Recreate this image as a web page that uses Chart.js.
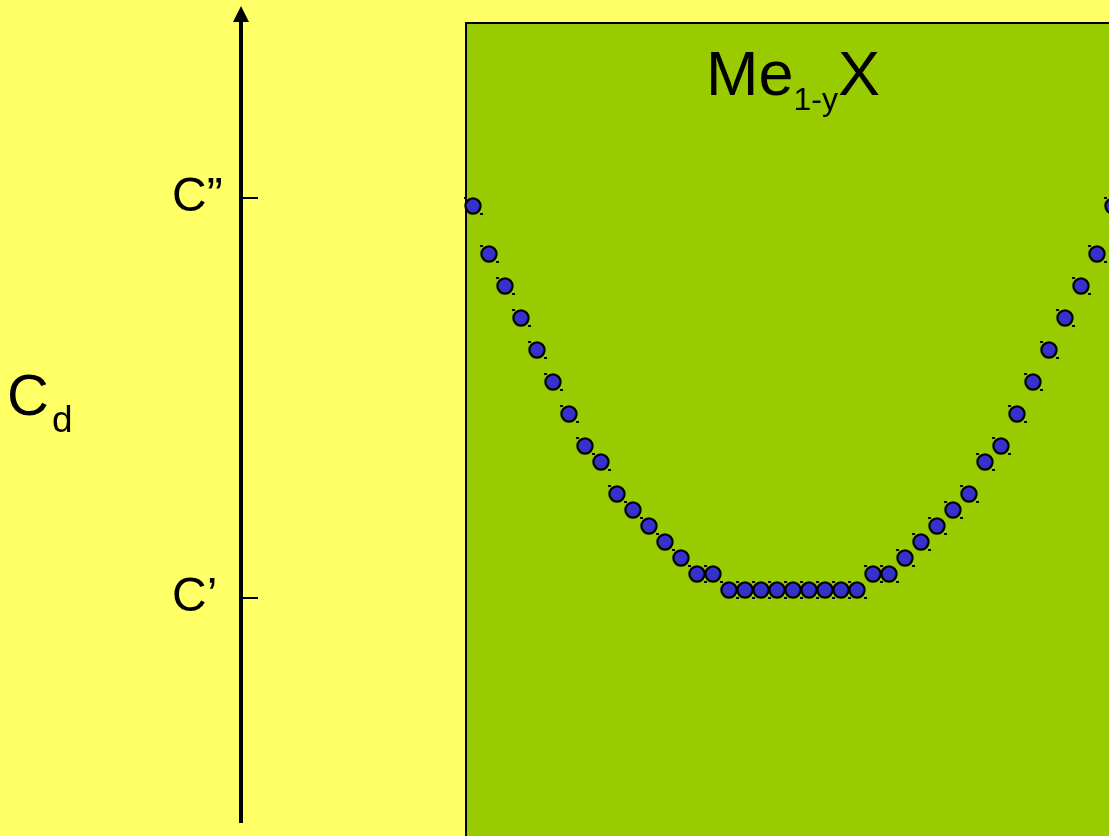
<!DOCTYPE html>
<html>
<head>
<meta charset="utf-8">
<script src="https://cdn.jsdelivr.net/npm/chart.js@4/dist/chart.umd.min.js"></script>
<style>
  html, body { margin: 0; padding: 0; background: #ffff66; }
  #wrap { width: 1109px; height: 836px; }
</style>
</head>
<body>
<div id="wrap"><canvas id="cdChart" width="1109" height="836"></canvas></div>
<script>
// composition index across the Me1-yX field
const composition = [0, 1, 2, 3, 4, 5, 6, 7, 8, 9, 10, 11, 12, 13, 14, 15, 16, 17, 18, 19, 20,
  21, 22, 23, 24, 25, 26, 27, 28, 29, 30, 31, 32, 33, 34, 35, 36, 37, 38, 39, 40];
// defect concentration, in steps where C' = 0 and C" = 25
const defectConc = [24.5, 21.5, 19.5, 17.5, 15.5, 13.5, 11.5, 9.5, 8.5, 6.5, 5.5, 4.5, 3.5, 2.5, 1.5, 1.5,
  0.5, 0.5, 0.5, 0.5, 0.5, 0.5, 0.5, 0.5, 0.5,
  1.5, 1.5, 2.5, 3.5, 4.5, 5.5, 6.5, 8.5, 9.5, 11.5, 13.5, 15.5, 17.5, 19.5, 21.5, 24.5];
const tickValues = [0, 25];
const tickLabels = ['C’', 'C”'];
const phaseLeft = -0.5;   // left edge of the phase field
const phaseTop = 36;

const FONT = "'Liberation Sans', Arial, sans-serif";

// dot marker with the little corner handles
function makeDot() {
  const c = document.createElement('canvas');
  c.width = 24; c.height = 24;
  const g = c.getContext('2d');
  g.fillStyle = '#000';
  g.fillRect(3, 3, 3, 2);
  g.fillRect(19, 19, 3, 2);
  g.beginPath();
  g.arc(12, 12, 7.6, 0, Math.PI * 2);
  g.fillStyle = '#3333cc';
  g.fill();
  g.lineWidth = 2.2;
  g.strokeStyle = '#000';
  g.stroke();
  return c;
}

const decor = {
  id: 'decor',
  beforeDraw(chart) {
    const { ctx, scales: { x, y } } = chart;
    ctx.save();
    ctx.fillStyle = '#ffff66';
    ctx.fillRect(0, 0, chart.width, chart.height);
    // phase field box
    const bx = x.getPixelForValue(phaseLeft);
    const by = y.getPixelForValue(phaseTop);
    ctx.fillStyle = '#99cc00';
    ctx.fillRect(bx, by, chart.width - bx + 20, chart.height - by + 20);
    ctx.strokeStyle = '#000';
    ctx.lineWidth = 2;
    ctx.beginPath();
    ctx.moveTo(bx + 1, chart.height + 5);
    ctx.lineTo(bx + 1, by + 1);
    ctx.lineTo(chart.width + 5, by + 1);
    ctx.stroke();
    ctx.restore();
  },
  afterDraw(chart) {
    const { ctx, chartArea, scales: { x, y } } = chart;
    ctx.save();
    const ax = y.right;
    // arrow head
    ctx.fillStyle = '#000';
    ctx.beginPath();
    ctx.moveTo(ax, chartArea.top - 16);
    ctx.lineTo(ax - 8, chartArea.top);
    ctx.lineTo(ax + 8, chartArea.top);
    ctx.closePath();
    ctx.fill();
    // tick marks on the right side of the axis
    ctx.strokeStyle = '#000';
    ctx.lineWidth = 2;
    tickValues.forEach(v => {
      const py = Math.round(y.getPixelForValue(v));
      ctx.beginPath();
      ctx.moveTo(ax + 2, py);
      ctx.lineTo(ax + 17, py);
      ctx.stroke();
    });
    // axis title C_d
    const midY = y.getPixelForValue(12.5);
    ctx.textBaseline = 'alphabetic';
    ctx.textAlign = 'left';
    ctx.font = '58px ' + FONT;
    ctx.fillText('C', 7, midY + 17);
    const cw = ctx.measureText('C').width;
    ctx.font = '37px ' + FONT;
    ctx.fillText('d', 7 + cw + 3, midY + 34);
    // phase label Me_{1-y}X
    const parts = [['Me', 63, 0], ['1-y', 32, 15], ['X', 63, 0]];
    let total = 0;
    parts.forEach(p => { ctx.font = p[1] + 'px ' + FONT; total += ctx.measureText(p[0]).width; });
    let tx = x.getPixelForValue(20) - total / 2;
    const base = 95;
    parts.forEach(p => {
      ctx.font = p[1] + 'px ' + FONT;
      ctx.fillText(p[0], tx, base + p[2]);
      tx += ctx.measureText(p[0]).width;
    });
    ctx.restore();
  }
};

new Chart(document.getElementById('cdChart'), {
  type: 'scatter',
  data: {
    datasets: [{
      label: 'Cd',
      data: composition.map((c, i) => ({ x: c, y: defectConc[i] })),
      pointStyle: makeDot(),
      pointRadius: 8,
      showLine: false
    }]
  },
  options: {
    responsive: false,
    animation: false,
    events: [],
    layout: { autoPadding: false, padding: { left: 172, top: 22, right: 0, bottom: 14 } },
    plugins: { legend: { display: false }, tooltip: { enabled: false } },
    scales: {
      x: { type: 'linear', display: false, min: -14.5, max: 39.75 },
      y: {
        type: 'linear',
        min: -14,
        max: 36,
        afterFit: s => { s.width = 69; s.paddingTop = 0; s.paddingBottom = 0; },
        afterBuildTicks: s => { s.ticks = tickValues.map(v => ({ value: v })); },
        grid: { drawOnChartArea: false, drawTicks: false },
        border: { display: true, width: 4, color: '#000' },
        ticks: {
          crossAlign: 'far',
          padding: 0,
          color: '#000',
          font: { family: FONT, size: 48, lineHeight: 0.5 },
          callback: v => tickLabels[tickValues.indexOf(v)]
        }
      }
    }
  },
  plugins: [decor]
});
</script>
</body>
</html>
